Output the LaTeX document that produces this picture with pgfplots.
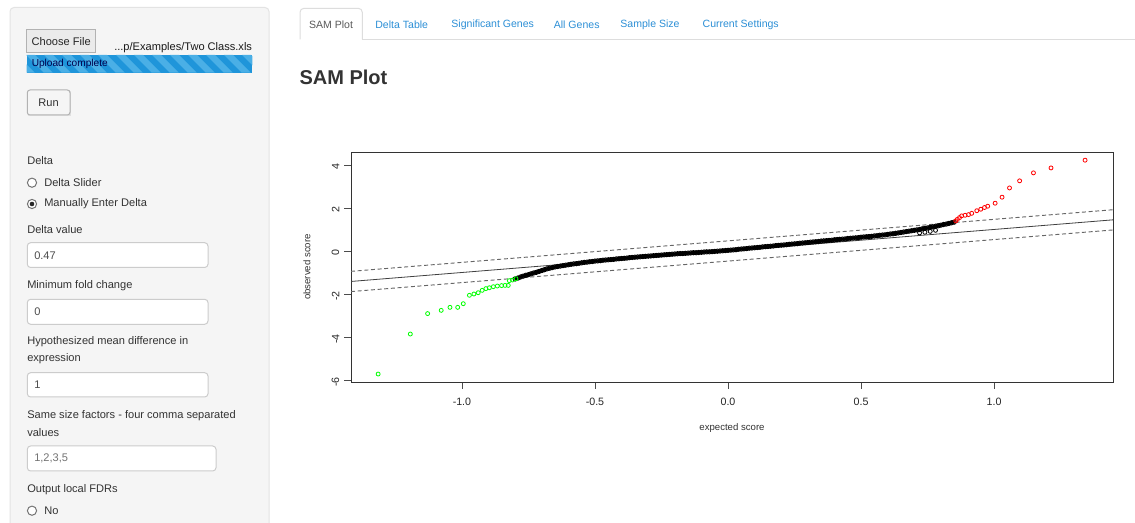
\documentclass[border=0pt]{standalone}
\usepackage{pgfplots}
\pgfplotsset{compat=1.18}
\usepackage{pgfplotstable}
\usepackage{fontspec}
\setmainfont{Liberation Sans}
\definecolor{panel}{HTML}{F5F5F5}
\definecolor{panelborder}{HTML}{E3E3E3}
\definecolor{txt}{HTML}{333333}
\definecolor{tabblue}{HTML}{2C8FD6}
\definecolor{tabline}{HTML}{DDDDDD}
\definecolor{barblue}{HTML}{1F95DA}
\definecolor{barstripe}{HTML}{4AAFE6}
\definecolor{inputborder}{HTML}{CCCCCC}
\newcommand{\fs}[1]{\fontsize{#1}{#1}\selectfont}

\pgfplotstableread{
x y
-0.80 -1.30
-0.79 -1.26
-0.78 -1.21
-0.77 -1.17
-0.76 -1.13
-0.75 -1.10
-0.74 -1.06
-0.73 -1.02
-0.72 -0.99
-0.71 -0.95
-0.70 -0.91
-0.69 -0.87
-0.68 -0.83
-0.67 -0.80
-0.66 -0.77
-0.65 -0.74
-0.64 -0.72
-0.63 -0.70
-0.62 -0.68
-0.61 -0.66
-0.60 -0.64
-0.59 -0.62
-0.58 -0.60
-0.57 -0.59
-0.56 -0.57
-0.55 -0.55
-0.54 -0.53
-0.53 -0.52
-0.52 -0.50
-0.51 -0.49
-0.50 -0.47
-0.49 -0.46
-0.48 -0.45
-0.47 -0.43
-0.46 -0.42
-0.45 -0.41
-0.44 -0.40
-0.43 -0.39
-0.42 -0.37
-0.41 -0.36
-0.40 -0.35
-0.39 -0.34
-0.38 -0.33
-0.37 -0.31
-0.36 -0.30
-0.35 -0.29
-0.34 -0.28
-0.33 -0.27
-0.32 -0.26
-0.31 -0.25
-0.30 -0.24
-0.29 -0.23
-0.28 -0.22
-0.27 -0.21
-0.26 -0.20
-0.25 -0.19
-0.24 -0.18
-0.23 -0.17
-0.22 -0.16
-0.21 -0.15
-0.20 -0.14
-0.19 -0.13
-0.18 -0.12
-0.17 -0.12
-0.16 -0.11
-0.15 -0.10
-0.14 -0.09
-0.13 -0.08
-0.12 -0.08
-0.11 -0.07
-0.10 -0.06
-0.09 -0.05
-0.08 -0.04
-0.07 -0.04
-0.06 -0.03
-0.05 -0.02
-0.04 -0.01
-0.03 0.00
-0.02 0.01
-0.01 0.02
0.00 0.03
0.01 0.04
0.02 0.05
0.03 0.06
0.04 0.08
0.05 0.09
0.06 0.10
0.07 0.11
0.08 0.13
0.09 0.14
0.10 0.15
0.11 0.16
0.12 0.17
0.13 0.19
0.14 0.20
0.15 0.21
0.16 0.22
0.17 0.23
0.18 0.25
0.19 0.26
0.20 0.27
0.21 0.28
0.22 0.29
0.23 0.31
0.24 0.32
0.25 0.33
0.26 0.34
0.27 0.36
0.28 0.37
0.29 0.38
0.30 0.39
0.31 0.41
0.32 0.42
0.33 0.43
0.34 0.44
0.35 0.46
0.36 0.47
0.37 0.48
0.38 0.49
0.39 0.50
0.40 0.52
0.41 0.53
0.42 0.54
0.43 0.55
0.44 0.56
0.45 0.58
0.46 0.59
0.47 0.60
0.48 0.61
0.49 0.62
0.50 0.64
0.51 0.65
0.52 0.66
0.53 0.67
0.54 0.68
0.55 0.70
0.56 0.71
0.57 0.73
0.58 0.74
0.59 0.75
0.60 0.77
0.61 0.79
0.62 0.80
0.63 0.82
0.64 0.84
0.65 0.86
0.66 0.88
0.67 0.90
0.68 0.92
0.69 0.94
0.70 0.96
0.71 0.98
0.72 1.00
0.73 1.03
0.74 1.05
0.75 1.07
0.76 1.10
0.77 1.12
0.78 1.15
0.79 1.17
0.80 1.20
0.81 1.23
0.82 1.25
0.83 1.28
0.84 1.31
0.85 1.34
}\blackpts

\pgfplotstableread{
x y
0.72 0.84
0.74 0.87
0.76 0.91
0.78 0.96
}\blackextra

\pgfplotstableread{
x y
-1.315 -5.72
-1.194 -3.86
-1.129 -2.91
-1.078 -2.76
-1.045 -2.62
-1.016 -2.62
-0.995 -2.45
-0.972 -2.06
-0.955 -2.00
-0.939 -1.94
-0.924 -1.83
-0.910 -1.75
-0.897 -1.71
-0.882 -1.66
-0.867 -1.63
-0.851 -1.61
-0.838 -1.60
-0.826 -1.60
-0.822 -1.38
-0.810 -1.35
-0.797 -1.29
}\greenpts

\pgfplotstableread{
x y
1.342 4.22
1.214 3.86
1.148 3.63
1.096 3.26
1.058 2.93
1.030 2.50
1.004 2.22
0.976 2.08
0.964 2.02
0.950 1.94
0.935 1.87
0.916 1.75
0.904 1.69
0.891 1.66
0.878 1.63
0.870 1.55
0.862 1.47
0.856 1.40
}\redpts

\begin{document}
\begin{tikzpicture}
\begin{scope}[x=0.75pt,y=-0.75pt]
\path[use as bounding box, fill=white] (0,0) rectangle (1135,523);
% sidebar
\draw[panelborder, fill=panel, line width=0.75pt, rounded corners=3pt] (10,7.5) rectangle (269,540);
% choose file
\draw[black!30, fill=black!8, line width=0.75pt] (26.7,30) rectangle (95.7,52.7);
\node[anchor=center, inner sep=0, text=black!85] at (61.2,41.5) {\fs{8.3}Choose File};
\node[anchor=west, inner sep=0, text=black!90] at (114,48) {\fs{8.3}...p/Examples/Two Class.xls};
% progress bar
\fill[barblue] (26.7,55) rectangle (252.3,72.7);
\begin{scope}
\clip (26.7,55) rectangle (252.3,72.7);
\foreach \i in {0,...,13} {
  \fill[barstripe] (\i*18+8,55) -- ++(9,0) -- ++(17.7,17.7) -- ++(-9,0) -- cycle;
}
\end{scope}
\node[anchor=west, inner sep=0, text=black!70!blue] at (31.5,64) {\fs{7.6}Upload complete};
% run button
\fill[black!12] (27.8,91) rectangle (70.5,116);
\draw[black!30, fill=black!4, line width=0.75pt, rounded corners=2pt] (27.3,90) rectangle (70,115);
\node[anchor=center, inner sep=0, text=txt] at (48.6,102.5) {\fs{8.3}Run};
% labels
\node[anchor=west, inner sep=0, text=txt] at (27,160.7) {\fs{8.3}Delta};
\draw[black!55, fill=white, line width=0.75pt] (32,182.7) circle (4.6);
\node[anchor=west, inner sep=0, text=txt] at (44,182.7) {\fs{8.3}Delta Slider};
\draw[black!55, fill=white, line width=0.75pt] (32,204) circle (4.6);
\fill[black!85] (32,204) circle (2.3);
\node[anchor=west, inner sep=0, text=txt] at (44,204) {\fs{8.3}Manually Enter Delta};
\node[anchor=west, inner sep=0, text=txt] at (27,229.7) {\fs{8.3}Delta value};
\draw[inputborder, fill=white, line width=0.75pt, rounded corners=2.5pt] (27.3,242.7) rectangle (208,267.5);
\node[anchor=west, inner sep=0, text=black!70] at (34,255.2) {\fs{8.3}0.47};
\node[anchor=west, inner sep=0, text=txt] at (27,286) {\fs{8.3}Minimum fold change};
\draw[inputborder, fill=white, line width=0.75pt, rounded corners=2.5pt] (27.3,299.3) rectangle (208,324.3);
\node[anchor=west, inner sep=0, text=black!70] at (34,311.8) {\fs{8.3}0};
\node[anchor=west, inner sep=0, text=txt] at (27,341.7) {\fs{8.3}Hypothesized mean difference in};
\node[anchor=west, inner sep=0, text=txt] at (27,359) {\fs{8.3}expression};
\draw[inputborder, fill=white, line width=0.75pt, rounded corners=2.5pt] (27.3,372.7) rectangle (208,397);
\node[anchor=west, inner sep=0, text=black!70] at (34,384.9) {\fs{8.3}1};
\node[anchor=west, inner sep=0, text=txt] at (27,415.7) {\fs{8.3}Same size factors - four comma separated};
\node[anchor=west, inner sep=0, text=txt] at (27,432.7) {\fs{8.3}values};
\draw[inputborder, fill=white, line width=0.75pt, rounded corners=2.5pt] (27.3,446) rectangle (216,471);
\node[anchor=west, inner sep=0, text=black!55] at (34,458.5) {\fs{8.3}1,2,3,5};
\node[anchor=west, inner sep=0, text=txt] at (27,489.3) {\fs{8.3}Output local FDRs};
\draw[black!55, fill=white, line width=0.75pt] (32,510.7) circle (4.6);
\node[anchor=west, inner sep=0, text=txt] at (44,510.7) {\fs{8.3}No};
% tabs
\draw[tabline, line width=0.75pt, rounded corners=3pt] (300,39.3) -- (300,8.3) -- (362.3,8.3) -- (362.3,39.3);
\draw[tabline, line width=0.75pt] (362.3,39.3) -- (1135,39.3);
\node[anchor=center, inner sep=0, text=black!65] at (331,24.3) {\fs{7.9}SAM Plot};
\node[anchor=center, inner sep=0, text=tabblue] at (401.7,24.3) {\fs{7.9}Delta Table};
\node[anchor=center, inner sep=0, text=tabblue] at (492.7,24.3) {\fs{7.9}Significant Genes};
\node[anchor=center, inner sep=0, text=tabblue] at (576.7,24.3) {\fs{7.9}All Genes};
\node[anchor=center, inner sep=0, text=tabblue] at (650,24.3) {\fs{7.9}Sample Size};
\node[anchor=center, inner sep=0, text=tabblue] at (740.7,24.3) {\fs{7.9}Current Settings};
\node[anchor=west, inner sep=0, text=txt] at (299.3,77.3) {\fs{15}\bfseries SAM Plot};
\end{scope}

\begin{axis}[
  at={(263.25pt,-286.5pt)}, anchor=south west,
  scale only axis, width=571.5pt, height=172.5pt,
  xmin=-1.417, xmax=1.447, ymin=-6.09, ymax=4.6,
  axis line style={black!80, line width=0.7pt},
  xtick={-1,-0.5,0,0.5,1}, xticklabels={-1.0,-0.5,0.0,0.5,1.0},
  ytick={-6,-4,-2,0,2,4}, yticklabels={-6,-4,-2,0,2,4},
  tick align=outside, xtick pos=bottom, ytick pos=left,
  major tick length=5.25pt,
  tick style={black!70, line width=0.6pt},
  ticklabel style={font=\fs{8}, text=black!85},
  xticklabel style={yshift=-3pt},
  yticklabel style={rotate=90, anchor=south, xshift=-1.5pt},
  xlabel={expected score}, ylabel={observed score},
  label style={font=\fs{7.2}, text=black!80},
  xlabel style={at={(axis description cs:0.5,-0.202)}, anchor=center},
  ylabel style={at={(axis description cs:-0.0577,0.5)}, anchor=center},
  clip=true,
]
\addplot[black!75, line width=0.6pt] coordinates {(-1.417,-1.417) (1.447,1.447)};
\addplot[black!60, dash pattern=on 3pt off 2pt, line width=0.7pt] coordinates {(-1.417,-0.947) (1.447,1.917)};
\addplot[black!60, dash pattern=on 3pt off 2pt, line width=0.7pt] coordinates {(-1.417,-1.887) (1.447,0.977)};
\addplot[black, line width=2.4pt, line cap=round] table {\blackpts};
\addplot[only marks, mark=o, mark size=1.6pt, black, mark options={line width=0.7pt}] table {\blackpts};
\addplot[only marks, mark=o, mark size=1.5pt, black, mark options={line width=0.6pt}] table {\blackextra};
\addplot[only marks, mark=o, mark size=1.5pt, green, mark options={line width=0.6pt}] table {\greenpts};
\addplot[only marks, mark=o, mark size=1.5pt, red, mark options={line width=0.6pt}] table {\redpts};
\end{axis}
\end{tikzpicture}
\end{document}
